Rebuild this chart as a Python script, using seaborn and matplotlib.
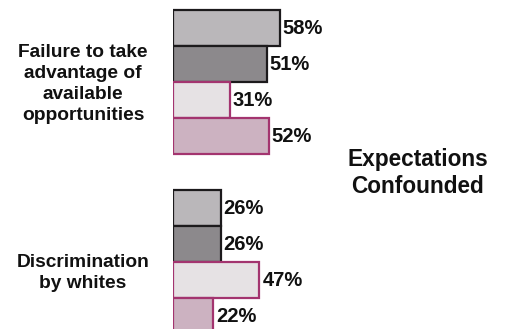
import matplotlib
matplotlib.use("Agg")
import matplotlib.pyplot as plt
import pandas as pd
import seaborn as sns

# two causes, four survey series each (values in percent)
causes = ["Failure to take\nadvantage of\navailable\nopportunities", "Discrimination\nby whites"]
series = ["A", "B", "C", "D"]
failure_pct = [58, 51, 31, 52]
discrim_pct = [26, 26, 47, 22]

fill_colors = ["#bab7ba", "#8c898c", "#e6e2e4", "#ccb2c1"]
edge_colors = ["#1c1a1c", "#1c1a1c", "#a3346f", "#a3346f"]

df = pd.DataFrame({
    "cause": [causes[0]] * 4 + [causes[1]] * 4,
    "series": series * 2,
    "pct": failure_pct + discrim_pct,
})

sns.set_style("white")
plt.rcParams["font.family"] = ["Liberation Sans", "DejaVu Sans"]

W, H = 505, 329
fig = plt.figure(figsize=(W / 100, H / 100), dpi=100)
fig.patch.set_facecolor("white")

x0 = 173          # pixel where 0% sits
px_per_pct = 1.84
ax = fig.add_axes([x0 / W, 0, (W - x0) / W, 1])

sns.barplot(data=df, y="cause", x="pct", hue="series", palette=fill_colors,
            width=0.8, dodge=True, saturation=1, legend=False, ax=ax)

for cont, ec in zip(ax.containers, edge_colors):
    for bar in cont:
        bar.set_edgecolor(ec)
        bar.set_linewidth(1.6)
    ax.bar_label(cont, fmt="{:.0f}%", padding=2, fontsize=14.5,
                 fontweight="bold", color="#111111")

ax.set_xlim(0, (W - x0) / px_per_pct)
# category 0 centred at y=82px, spacing 180px per category
top = -82 / 180
ax.set_ylim(top + H / 180, top)
ax.axis("off")

label_x = (83 - x0) / px_per_pct
label_shift = [0.01, 0.06]
for i, txt in enumerate(causes):
    ax.text(label_x, i + label_shift[i], txt, ha="center", va="center",
            multialignment="center", fontsize=13.8, fontweight="bold",
            linespacing=1.32, color="#111111")

fig.text(418 / W, 1 - 173 / H, "Expectations\nConfounded", ha="center",
         va="center", multialignment="center", fontsize=16.3,
         fontweight="bold", linespacing=1.18, color="#111111")

fig.savefig("out.png", dpi=100, facecolor="white")
